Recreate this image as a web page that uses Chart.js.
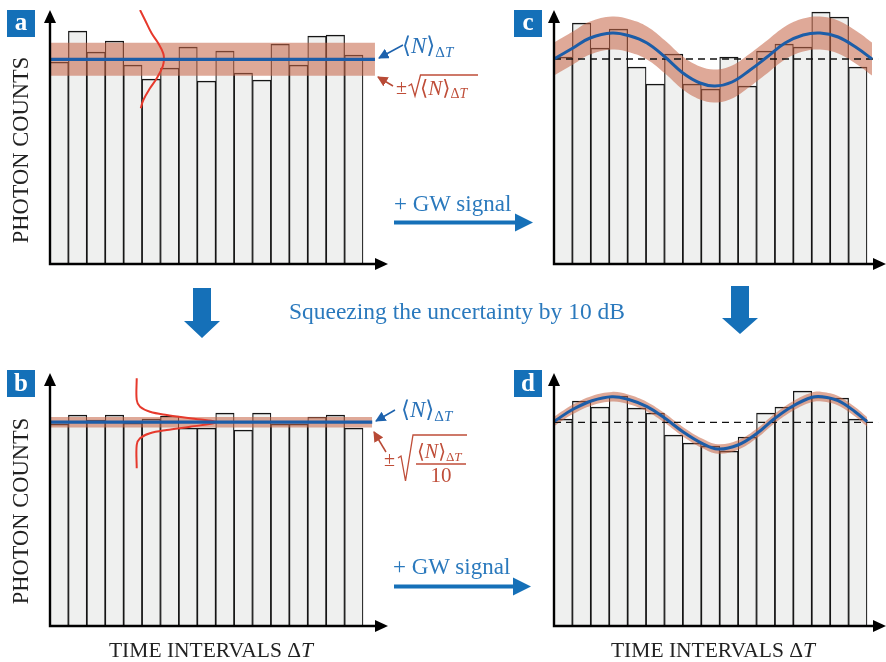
<!DOCTYPE html>
<html>
<head>
<meta charset="utf-8">
<script src="https://cdn.jsdelivr.net/npm/chart.js@4"></script>
<style>
  html, body { margin: 0; padding: 0; background: #fff; overflow: hidden; }
  body { width: 886px; height: 662px; position: relative; }
  canvas { position: absolute; }
  #ov { position: absolute; left: 0; top: 0; }
</style>
</head>
<body>
<canvas id="cA"></canvas>
<canvas id="cB"></canvas>
<canvas id="cC"></canvas>
<canvas id="cD"></canvas>

<svg id="ov" width="886" height="662" font-family="Liberation Serif, 'DejaVu Serif', serif">
  <defs>
    <marker id="hBlue" viewBox="0 0 10 10" refX="9" refY="5" markerWidth="7" markerHeight="7" orient="auto">
      <path d="M0,0 L10,5 L0,10 z" fill="#1d62ad"/>
    </marker>
    <marker id="hRed" viewBox="0 0 10 10" refX="9" refY="5" markerWidth="7" markerHeight="7" orient="auto">
      <path d="M0,0 L10,5 L0,10 z" fill="#b84a36"/>
    </marker>
  </defs>

  <!-- panel labels -->
  <rect x="7" y="10" width="28" height="27" fill="#1470b8"/>
  <text x="21" y="30" fill="#fff" font-size="25" font-weight="bold" text-anchor="middle">a</text>
  <rect x="7" y="370" width="28" height="27" fill="#1470b8"/>
  <text x="21" y="391" fill="#fff" font-size="25" font-weight="bold" text-anchor="middle">b</text>
  <rect x="514" y="10" width="28" height="27" fill="#1470b8"/>
  <text x="528" y="30" fill="#fff" font-size="25" font-weight="bold" text-anchor="middle">c</text>
  <rect x="514" y="370" width="28" height="27" fill="#1470b8"/>
  <text x="528" y="391" fill="#fff" font-size="25" font-weight="bold" text-anchor="middle">d</text>

  <!-- axis titles -->
  <text transform="translate(28,150) rotate(-90)" text-anchor="middle" font-size="22.5" fill="#222">PHOTON COUNTS</text>
  <text transform="translate(28,511) rotate(-90)" text-anchor="middle" font-size="22.5" fill="#222">PHOTON COUNTS</text>
  <text x="211" y="657" text-anchor="middle" font-size="21.5" fill="#222">TIME INTERVALS Δ<tspan font-style="italic">T</tspan></text>
  <text x="713" y="657" text-anchor="middle" font-size="21.5" fill="#222">TIME INTERVALS Δ<tspan font-style="italic">T</tspan></text>

  <!-- panel a annotations -->
  <text x="402" y="53" fill="#2a72b8" font-size="23">⟨<tspan font-style="italic">N</tspan>⟩<tspan font-size="15" dy="4">Δ<tspan font-style="italic">T</tspan></tspan></text>
  <line x1="403" y1="45" x2="379" y2="58" stroke="#1d62ad" stroke-width="1.5" marker-end="url(#hBlue)"/>
  <line x1="393" y1="86" x2="378" y2="77" stroke="#b84a36" stroke-width="1.5" marker-end="url(#hRed)"/>
  <text x="396" y="94" fill="#bf4d38" font-size="20">±</text>
  <polyline points="408.5,86 411.5,84 415,96 420.5,75 478,75" fill="none" stroke="#bf4d38" stroke-width="1.3"/>
  <text x="420" y="95" fill="#bf4d38" font-size="21">⟨<tspan font-style="italic">N</tspan>⟩<tspan font-size="14" dy="3">Δ<tspan font-style="italic">T</tspan></tspan></text>

  <!-- panel b annotations -->
  <text x="401" y="417" fill="#2a72b8" font-size="23">⟨<tspan font-style="italic">N</tspan>⟩<tspan font-size="15" dy="4">Δ<tspan font-style="italic">T</tspan></tspan></text>
  <line x1="395" y1="410" x2="376" y2="421" stroke="#1d62ad" stroke-width="1.5" marker-end="url(#hBlue)"/>
  <line x1="386" y1="452" x2="374" y2="432" stroke="#b84a36" stroke-width="1.5" marker-end="url(#hRed)"/>
  <text x="384" y="466" fill="#bf4d38" font-size="20">±</text>
  <polyline points="398,458 401,456 405.5,481 413,435 467,435" fill="none" stroke="#bf4d38" stroke-width="1.3"/>
  <text x="417" y="458" fill="#bf4d38" font-size="20">⟨<tspan font-style="italic">N</tspan>⟩<tspan font-size="13" dy="3">Δ<tspan font-style="italic">T</tspan></tspan></text>
  <line x1="416" y1="464" x2="466" y2="464" stroke="#bf4d38" stroke-width="1.3"/>
  <text x="441" y="482" fill="#bf4d38" font-size="21" text-anchor="middle">10</text>

  <!-- GW signal arrows -->
  <text x="394" y="211" fill="#2a79bd" font-size="23">+ GW signal</text>
  <line x1="394" y1="222.5" x2="518" y2="222.5" stroke="#1570b8" stroke-width="4"/>
  <polygon points="515,213.5 533,222.5 515,231.5" fill="#1570b8"/>
  <text x="393" y="574" fill="#2a79bd" font-size="23">+ GW signal</text>
  <line x1="394" y1="586.5" x2="516" y2="586.5" stroke="#1570b8" stroke-width="4"/>
  <polygon points="513,577.5 531,586.5 513,595.5" fill="#1570b8"/>

  <!-- squeezing -->
  <text x="457" y="319" fill="#2a79bd" font-size="23.5" text-anchor="middle">Squeezing the uncertainty by 10 dB</text>
  <polygon points="193,288 211,288 211,321 220,321 202,338 184,321 193,321" fill="#1570b8"/>
  <polygon points="731,286 749,286 749,318 758,318 740,334 722,318 731,318" fill="#1570b8"/>
</svg>

<script>
// ── Data (bar units on x: bar i spans i..i+1; y in photon counts, arbitrary) ──

const barsA = [202, 233, 212, 223, 199, 185, 196, 217, 183, 213, 191, 184, 220, 199, 228, 229, 209];
const barsB = [202, 211, 206, 211, 203, 207, 210, 198, 198, 213, 196, 213, 202, 202, 209, 211, 198];
const barsC = [207, 241, 216, 235, 197, 180, 210, 180, 175, 207, 178, 213, 220, 217, 252, 247, 197];
const barsD = [207, 225, 219, 230, 218, 213, 191, 183, 180, 175, 189, 213, 219, 235, 229, 228, 207];

const meanA = 204.7, sigmaA = 16.5, bandEndA = 17.65;
const meanB = 203.8, sigmaB = 5.2,  bandEndB = 17.5;
const meanC = 205,   sigmaC = 16.5;
const meanD = 203.7, sigmaD = 4.8;
const dashEnd = 17.6;

const gwXC = [0, 1.03, 1.96, 3.15, 4.13, 5.05, 6.03, 7.0, 7.93, 8.75, 9.67, 10.65, 11.57, 12.55, 13.53, 14.45, 15.43, 16.46, 17.27];
const gwYC = [205, 216, 226, 231, 228, 221, 207, 191, 181, 178, 182, 194, 207, 221, 229, 231, 227, 216, 205];
const gwXD = [0, 1.03, 2.06, 3.15, 4.02, 5.05, 6.03, 7.0, 8.04, 8.9, 9.99, 11.03, 12.0, 12.98, 14.01, 14.56, 15.43, 16.35, 17.0];
const gwYD = [204.5, 216.7, 225.3, 229.3, 226.7, 219.3, 207.7, 194.3, 182.7, 177, 181, 192.7, 207.7, 220, 228.7, 229.3, 225.3, 214.3, 204.3];

// sideways distributions drawn in panels a and b
const gaussXA = [4.89, 5.16, 5.52, 5.88, 6.15, 6.19, 6.12, 5.8, 5.43, 5.07, 4.93];
const gaussYA = [254, 244, 230.7, 220.7, 210.7, 204.7, 197.3, 185.7, 175.7, 164, 155.7];
const gaussXB = [4.71, 4.71, 4.89, 5.43, 6.34, 7.61, 9.06, 7.61, 6.34, 5.43, 4.89, 4.71, 4.71];
const gaussYB = [247.7, 226, 219.3, 214.3, 211, 207.7, 203.7, 199.3, 196, 192.7, 187.7, 181, 157.7];

// ── Styles ─────────────────────────────────────────────────────────────────────

const BAND = "rgba(198,102,72,0.56)";
const BLUE = "#1c5da8";
const RED  = "#e6392c";

// ── Axis arrows (decoration) ──────────────────────────────────────────────────

const axesArrows = {
  id: "axesArrows",
  afterDraw(chart) {
    const { ctx, chartArea: { left, top, right, bottom } } = chart;
    ctx.save();
    ctx.strokeStyle = "#000";
    ctx.fillStyle = "#000";
    ctx.lineWidth = 2.4;
    ctx.beginPath();
    ctx.moveTo(left, top + 10);
    ctx.lineTo(left, bottom);
    ctx.lineTo(right - 10, bottom);
    ctx.stroke();
    ctx.beginPath();
    ctx.moveTo(left, top);
    ctx.lineTo(left - 6, top + 13);
    ctx.lineTo(left + 6, top + 13);
    ctx.closePath();
    ctx.fill();
    ctx.beginPath();
    ctx.moveTo(right, bottom);
    ctx.lineTo(right - 13, bottom - 6);
    ctx.lineTo(right - 13, bottom + 6);
    ctx.closePath();
    ctx.fill();
    ctx.restore();
  }
};

// ── Dataset helpers ───────────────────────────────────────────────────────────

const pts = (xs, ys) => xs.map((x, i) => ({ x, y: ys[i] }));

function barSet(vals) {
  return {
    type: "bar",
    data: vals.map((v, i) => ({ x: i + 0.5, y: v })),
    backgroundColor: "#eff0ef",
    borderColor: "#151515",
    borderWidth: { top: 1.7, left: 1.2, right: 1.2, bottom: 0 },
    borderSkipped: "start",
    barPercentage: 1,
    categoryPercentage: 1,
    order: 9,
  };
}

function lineSet(xs, ys, extra) {
  return Object.assign({
    type: "line",
    data: pts(xs, ys),
    pointRadius: 0,
    fill: false,
    tension: 0,
  }, extra);
}

function bandPair(xs, ys, sigma, tension) {
  return [
    lineSet(xs, ys.map(v => v + sigma), { borderColor: "transparent", borderWidth: 0, backgroundColor: BAND, fill: "+1", tension, order: 6 }),
    lineSet(xs, ys.map(v => v - sigma), { borderColor: "transparent", borderWidth: 0, tension, order: 6 }),
  ];
}

function panel(id, box, xMax, yMax, datasets) {
  const pad = 8;
  const cv = document.getElementById(id);
  cv.width = box.R - box.L + 2 * pad;
  cv.height = box.B - box.T + 2 * pad;
  cv.style.left = (box.L - pad) + "px";
  cv.style.top = (box.T - pad) + "px";
  return new Chart(cv, {
    type: "bar",
    data: { datasets },
    options: {
      responsive: false,
      animation: false,
      devicePixelRatio: 1,
      layout: { padding: pad },
      plugins: { legend: { display: false }, tooltip: { enabled: false } },
      scales: {
        x: { type: "linear", min: 0, max: xMax, offset: false, display: false, ticks: { count: 2 } },
        y: { type: "linear", min: 0, max: yMax, display: false, ticks: { count: 2 } },
      },
    },
    plugins: [axesArrows],
  });
}

// ── Panels ────────────────────────────────────────────────────────────────────

const UNIT = 313 / 17; // px per bar, only used for sizing the canvases

panel("cA", { L: 50, T: 10, R: 388, B: 264 }, 338 / UNIT, 254, [
  barSet(barsA),
  ...bandPair([0, bandEndA], [meanA, meanA], sigmaA, 0),
  lineSet(gaussXA, gaussYA, { borderColor: RED, borderWidth: 2, tension: 0.4, order: 2 }),
  lineSet([0, bandEndA], [meanA, meanA], { borderColor: BLUE, borderWidth: 3.2, order: 1 }),
]);

panel("cB", { L: 50, T: 373, R: 388, B: 626 }, 338 / UNIT, 253, [
  barSet(barsB),
  ...bandPair([0, bandEndB], [meanB, meanB], sigmaB, 0),
  lineSet(gaussXB, gaussYB, { borderColor: RED, borderWidth: 2, tension: 0.35, order: 2 }),
  lineSet([0, bandEndB], [meanB, meanB], { borderColor: BLUE, borderWidth: 3.2, order: 1 }),
]);

panel("cC", { L: 554, T: 10, R: 886, B: 264 }, 332 / UNIT, 254, [
  barSet(barsC),
  ...bandPair(gwXC, gwYC, sigmaC, 0.4),
  lineSet([0, dashEnd], [meanC, meanC], { borderColor: "#111", borderWidth: 1.3, borderDash: [7, 5], order: 3 }),
  lineSet(gwXC, gwYC, { borderColor: BLUE, borderWidth: 3, tension: 0.4, order: 1 }),
]);

panel("cD", { L: 554, T: 373, R: 886, B: 626 }, 332 / UNIT, 253, [
  barSet(barsD),
  ...bandPair(gwXD, gwYD, sigmaD, 0.4),
  lineSet([0, dashEnd], [meanD, meanD], { borderColor: "#111", borderWidth: 1.3, borderDash: [7, 5], order: 3 }),
  lineSet(gwXD, gwYD, { borderColor: BLUE, borderWidth: 3, tension: 0.4, order: 1 }),
]);
</script>
</body>
</html>
